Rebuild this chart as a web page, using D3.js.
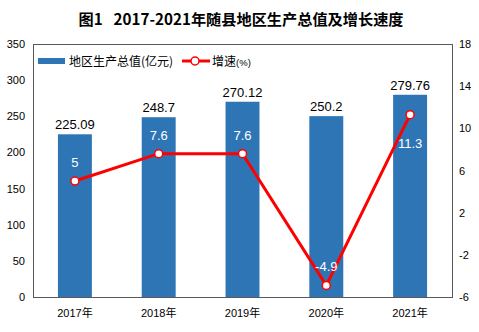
<!DOCTYPE html>
<html><head><meta charset="utf-8">
<script src="https://cdn.jsdelivr.net/npm/d3@7/dist/d3.min.js"></script>
<style>body{margin:0;background:#fff}svg{display:block}</style>
</head><body>
<script>
const categories = ["2017年","2018年","2019年","2020年","2021年"];
const gdpValues = [225.09, 248.7, 270.12, 250.2, 279.76];
const growthValues = [5, 7.6, 7.6, -4.9, 11.3];
const leftTicks = [0,50,100,150,200,250,300,350];
const rightTicks = [-6,-2,2,6,10,14,18];
const titleA = "图1";
const titleB = "2017-2021年随县地区生产总值及增长速度";
const legendBar = "地区生产总值(亿元)";
const legendLine = "增速";

const W = 479, H = 332;
const m = {l:33, r:452, t:44, b:297};
const font = "'Liberation Sans', Arial, 'Noto Sans CJK SC', sans-serif";
const svg = d3.select("body").append("svg").attr("width", W).attr("height", H);

const x = d3.scaleBand().domain(categories).range([m.l, m.r]).paddingInner(0.595).paddingOuter(0.2975);
const yL = d3.scaleLinear().domain([0,350]).range([m.b, m.t]);
const yR = d3.scaleLinear().domain([-6,18]).range([m.b, m.t]);

const tt = svg.append("text").attr("x", 241).attr("y", 25).attr("text-anchor","middle")
  .attr("font-family","'Noto Sans CJK SC', sans-serif").attr("font-weight","bold").attr("font-size",15.2);
tt.append("tspan").text(titleA);
tt.append("tspan").attr("dx",11).text(titleB);

// frame
svg.append("rect").attr("x", m.l+0.5).attr("y", m.t+0.5).attr("width", m.r-m.l).attr("height", m.b-m.t)
  .attr("fill","none").attr("stroke","#595959").attr("stroke-width",1);

// axes
const fmt = d => String(d);
const axL = svg.append("g").attr("transform",`translate(${m.l},0)`)
  .call(d3.axisLeft(yL).tickValues(leftTicks).tickFormat(fmt).tickSize(0).tickPadding(8));
const axR = svg.append("g").attr("transform",`translate(${m.r},0)`)
  .call(d3.axisRight(yR).tickValues(rightTicks).tickFormat(fmt).tickSize(0).tickPadding(7));
const axB = svg.append("g").attr("transform",`translate(0,${m.b})`)
  .call(d3.axisBottom(x).tickSize(0).tickPadding(12));
[axL,axR,axB].forEach(a=>{
  a.select(".domain").remove();
  a.selectAll("text").attr("font-family",font).attr("font-size",11).attr("fill","#000");
});

// bars
svg.selectAll("rect.bar").data(gdpValues).enter().append("rect").attr("class","bar")
  .attr("x",(d,i)=>x(categories[i])).attr("width",x.bandwidth())
  .attr("y",d=>yL(d)).attr("height",d=>m.b-yL(d)).attr("fill","#2E75B6");

svg.selectAll("text.bl").data(gdpValues).enter().append("text").attr("class","bl")
  .attr("x",(d,i)=>x(categories[i])+x.bandwidth()/2).attr("y",d=>yL(d)-5)
  .attr("text-anchor","middle").attr("font-family",font).attr("font-size",13).attr("fill","#000")
  .text(d=>d);

// line
const cx = (i)=>x(categories[i])+x.bandwidth()/2;
const line = d3.line().x((d,i)=>cx(i)).y(d=>yR(d));
svg.append("path").datum(growthValues).attr("d",line).attr("fill","none")
  .attr("stroke","#FF0000").attr("stroke-width",3);
svg.selectAll("circle.pt").data(growthValues).enter().append("circle").attr("class","pt")
  .attr("cx",(d,i)=>cx(i)).attr("cy",d=>yR(d)).attr("r",4)
  .attr("fill","#fff").attr("stroke","#FF0000").attr("stroke-width",1.5);
svg.selectAll("text.ll").data(growthValues).enter().append("text").attr("class","ll")
  .attr("x",(d,i)=>cx(i)).attr("y",(d,i)=> i===4 ? yR(d)+33 : yR(d)-14)
  .attr("text-anchor","middle").attr("font-family",font).attr("font-size",13).attr("fill","#fff")
  .text(d=>String(d));

// legend
const lg = svg.append("g");
lg.append("rect").attr("x",38).attr("y",58).attr("width",27).attr("height",6).attr("fill","#2E75B6");
lg.append("text").attr("x",69).attr("y",65.5).attr("font-family","'Noto Sans CJK SC', sans-serif")
  .attr("font-size",12).text(legendBar);
lg.append("line").attr("x1",182).attr("x2",210).attr("y1",61).attr("y2",61).attr("stroke","#FF0000").attr("stroke-width",3);
lg.append("circle").attr("cx",195).attr("cy",61).attr("r",4).attr("fill","#fff").attr("stroke","#FF0000").attr("stroke-width",1.5);
const lt = lg.append("text").attr("x",212).attr("y",65.5).attr("font-family","'Noto Sans CJK SC', sans-serif").attr("font-size",12);
lt.append("tspan").text(legendLine);
lt.append("tspan").attr("font-size",9.5).attr("font-family",font).text("(%)");
</script>
</body></html>
